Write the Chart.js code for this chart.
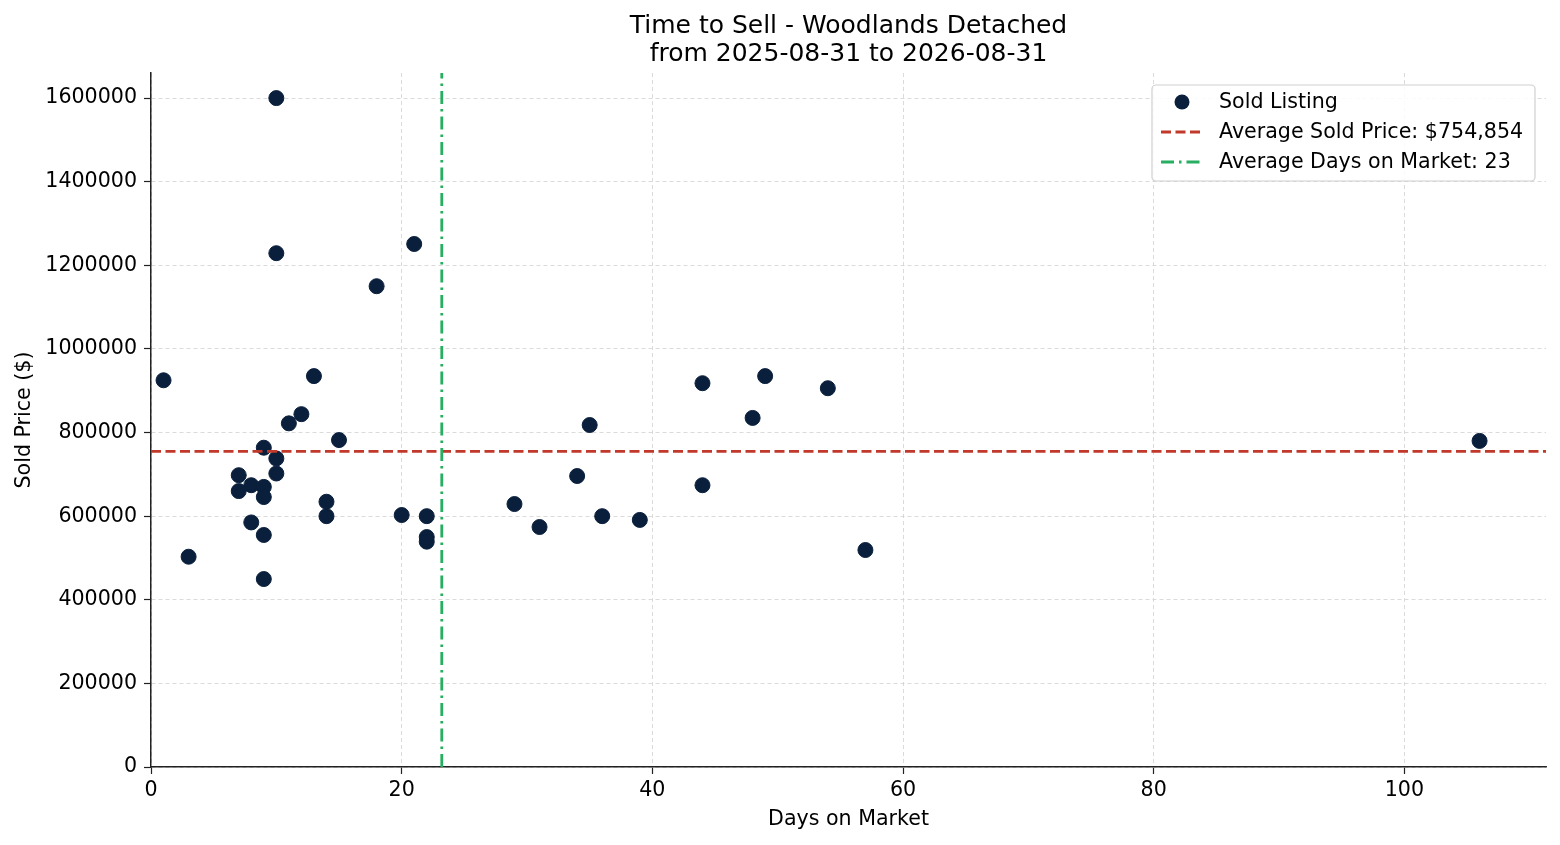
<!DOCTYPE html>
<html>
<head>
<meta charset="utf-8">
<script src="https://cdn.jsdelivr.net/npm/chart.js@4.4.1/dist/chart.umd.min.js"></script>
<style>
  html, body { margin: 0; padding: 0; background: #fff; }
  #wrap { width: 1560px; height: 845px; }
</style>
</head>
<body>
<div id="wrap"><canvas id="scatter"></canvas></div>
<script>
const daysOnMarket = [
  1, 13, 12, 11, 15, 9, 10, 10, 7, 8, 9, 7, 9, 14, 14, 20, 22, 22, 22, 8, 9, 3, 9,
  10, 10, 21, 18,
  29, 31, 34, 35, 36, 39, 44, 44, 48, 49, 54, 57, 106,
];
const soldPrices = [
  925000, 935000, 844000, 822000, 782000, 763700, 738000, 702000, 698000, 674000,
  670000, 660000, 645700, 634500, 600000, 602700, 600000, 550000, 539000, 585000,
  555000, 503000, 449600,
  1600000, 1229000, 1251000, 1150000,
  629000, 574000, 696000, 818000, 600000, 591000, 918000, 674000, 835000, 935000,
  906000, 519000, 780000,
];
const avgSoldPrice = 754854;
const avgDaysOnMarket = 23.2;
const xTicks = [0, 20, 40, 60, 80, 100];
const yTicks = [0, 200000, 400000, 600000, 800000, 1000000, 1200000, 1400000, 1600000];
const xRange = [0, 111.3];
const yRange = [0, 1660000];
const titleLines = ['Time to Sell - Woodlands Detached', 'from 2025-08-31 to 2026-08-31'];

const legendItems = [
  { label: 'Sold Listing', kind: 'dot', color: '#0a1f3c' },
  { label: 'Average Sold Price: $754,854', kind: 'line', color: '#c0392b', dash: [10, 4.5] },
  { label: 'Average Days on Market: 23', kind: 'line', color: '#27ae60', dash: [13, 5, 2.5, 5] },
];

const FONT = 'DejaVu Sans';
const FS = 20.6;

// title centred over the plot area, like the original
const titlePlugin = {
  id: 'axesTitle',
  afterDraw(chart) {
    const ctx = chart.ctx;
    const area = chart.chartArea;
    const cx = (area.left + area.right) / 2;
    ctx.save();
    ctx.font = '25px "' + FONT + '"';
    ctx.fillStyle = '#000';
    ctx.textAlign = 'center';
    ctx.textBaseline = 'middle';
    titleLines.forEach((line, i) => ctx.fillText(line, cx, 26 + i * 28));
    ctx.restore();
  },
};

const legendPlugin = {
  id: 'boxLegend',
  afterDraw(chart) {
    const ctx = chart.ctx;
    const area = chart.chartArea;
    const w = 383, h = 96;
    const x = area.right - 11 - w;
    const y = area.top + 12;
    ctx.save();
    ctx.fillStyle = 'rgba(255,255,255,0.85)';
    ctx.strokeStyle = '#d0d0d0';
    ctx.lineWidth = 1.2;
    ctx.beginPath();
    ctx.roundRect(x, y, w, h, 4);
    ctx.fill();
    ctx.stroke();
    ctx.font = FS + 'px "' + FONT + '"';
    ctx.textBaseline = 'middle';
    legendItems.forEach((item, i) => {
      const cy = y + 17 + i * 30;
      if (item.kind === 'dot') {
        ctx.fillStyle = item.color;
        ctx.beginPath();
        ctx.arc(x + 30, cy, 7.5, 0, Math.PI * 2);
        ctx.fill();
      } else {
        ctx.strokeStyle = item.color;
        ctx.lineWidth = 2.8;
        ctx.setLineDash(item.dash);
        ctx.beginPath();
        ctx.moveTo(x + 9, cy);
        ctx.lineTo(x + 51, cy);
        ctx.stroke();
        ctx.setLineDash([]);
      }
      ctx.fillStyle = '#000';
      ctx.fillText(item.label, x + 67, cy + 1);
    });
    ctx.restore();
  },
};

const points = daysOnMarket.map((d, i) => ({ x: d, y: soldPrices[i] }));

const gridOpts = {
  color: '#d2d2d2',
  lineWidth: 0.8,
  tickColor: '#222',
  tickLength: 7,
  tickWidth: 1.2,
};

new Chart(document.getElementById('scatter'), {
  type: 'scatter',
  data: {
    datasets: [
      {
        label: 'Sold Listing',
        data: points,
        backgroundColor: '#0a1f3c',
        borderColor: '#0a1f3c',
        pointRadius: 7.5,
        pointHoverRadius: 7.5,
        order: 2,
      },
      {
        type: 'line',
        label: 'Average Sold Price',
        data: [{ x: xRange[0], y: avgSoldPrice }, { x: xRange[1], y: avgSoldPrice }],
        borderColor: '#c0392b',
        borderWidth: 2.8,
        borderDash: [10, 4.5],
        pointRadius: 0,
        order: 1,
      },
      {
        type: 'line',
        label: 'Average Days on Market',
        data: [{ x: avgDaysOnMarket, y: yRange[0] }, { x: avgDaysOnMarket, y: yRange[1] }],
        borderColor: '#27ae60',
        borderWidth: 2.8,
        borderDash: [13, 5, 2.5, 5],
        pointRadius: 0,
        order: 0,
      },
    ],
  },
  options: {
    responsive: true,
    maintainAspectRatio: false,
    animation: false,
    layout: { padding: { left: 0, right: 14, top: 73, bottom: 0 } },
    plugins: {
      legend: { display: false },
      tooltip: { enabled: false },
      title: { display: false },
    },
    scales: {
      x: {
        type: 'linear',
        min: xRange[0],
        max: xRange[1],
        afterBuildTicks: (scale) => { scale.ticks = xTicks.map((v) => ({ value: v })); },
        afterFit: (scale) => { scale.height = 78; },
        ticks: {
          color: '#000',
          font: { family: FONT, size: FS },
          padding: 4,
          maxRotation: 0,
          callback: (v) => String(v),
        },
        grid: gridOpts,
        border: { display: true, color: '#222', width: 1.5, dash: [4, 3] },
        title: {
          display: true,
          text: 'Days on Market',
          color: '#000',
          font: { family: FONT, size: FS },
          padding: { top: 4, bottom: 13 },
        },
      },
      y: {
        type: 'linear',
        min: yRange[0],
        max: yRange[1],
        afterBuildTicks: (scale) => { scale.ticks = yTicks.map((v) => ({ value: v })); },
        afterFit: (scale) => { scale.width = 151; },
        ticks: {
          color: '#000',
          font: { family: FONT, size: FS },
          padding: 7,
          callback: (v) => String(v),
        },
        grid: gridOpts,
        border: { display: true, color: '#222', width: 1.5, dash: [4, 3] },
        title: {
          display: true,
          text: 'Sold Price ($)',
          color: '#000',
          font: { family: FONT, size: FS },
          padding: { top: 12, bottom: 4 },
        },
      },
    },
  },
  plugins: [titlePlugin, legendPlugin],
});
</script>
</body>
</html>
